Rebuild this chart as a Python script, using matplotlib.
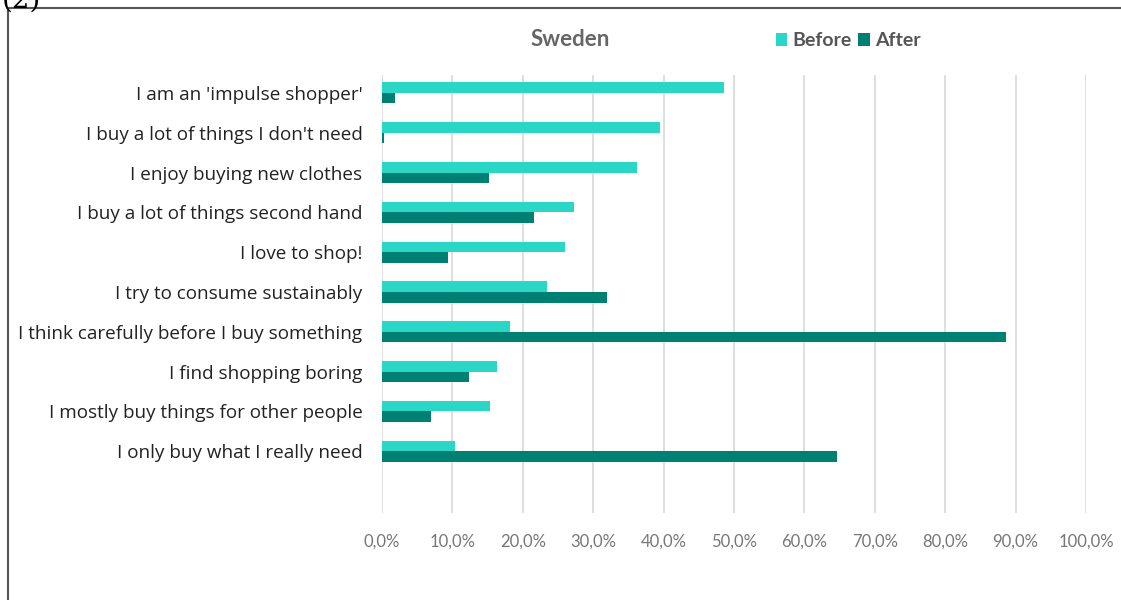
import numpy as np
import matplotlib.pyplot as plt
from matplotlib.lines import Line2D

# dados (Sweden, antes / depois)
statements = [
    "I am an 'impulse shopper'",
    "I buy a lot of things I don't need",
    "I enjoy buying new clothes",
    "I buy a lot of things second hand",
    "I love to shop!",
    "I try to consume sustainably",
    "I think carefully before I buy something",
    "I find shopping boring",
    "I mostly buy things for other people",
    "I only buy what I really need",
]
before = [48.6, 39.5, 36.2, 27.3, 26.0, 23.5, 18.2, 16.4, 15.4, 10.4]
after = [1.8, 0.3, 15.2, 21.6, 9.4, 32.0, 88.7, 12.3, 6.9, 64.7]
xticks = [0, 10, 20, 30, 40, 50, 60, 70, 80, 90, 100]

c_before = '#2AD6C6'
c_after = '#007F73'

plt.rcParams['font.family'] = ['Lato', 'DejaVu Sans']

fig = plt.figure(figsize=(11.21, 6), dpi=100)
ax = fig.add_axes([382 / 1121, 1 - 513 / 600, 704 / 1121, 438 / 600])

y = np.arange(len(statements))
h = 0.265
ax.barh(y - h / 2, before, height=h, color=c_before, label='Before', zorder=3)
ax.barh(y + h / 2, after, height=h, color=c_after, label='After', zorder=3)

ax.set_xlim(0, 100)
ax.set_ylim(len(statements) - 1 + 1.55, -0.45)
ax.set_xticks(xticks)
ax.set_xticklabels([f'{v:.1f}%'.replace('.', ',') for v in xticks])
ax.set_yticks(y)
ax.set_yticklabels(statements, family=['Open Sans', 'DejaVu Sans'])
ax.tick_params(axis='x', length=0, pad=15, labelsize=12, labelcolor='#777777')
ax.tick_params(axis='y', length=0, pad=14, labelsize=13.6, labelcolor='#222222')
ax.grid(axis='x', color='#d9d9d9', linewidth=1.2, zorder=0)
for s in ax.spines.values():
    s.set_visible(False)

fig.text(570 / 1121, 1 - 40 / 600, 'Sweden', ha='center', va='center',
         fontsize=16, fontweight='bold', color='#666666')
fig.legend(loc='center', bbox_to_anchor=(848 / 1121, 1 - 41 / 600), ncol=2,
           frameon=False, handlelength=0.6, handleheight=0.6,
           handletextpad=0.25, columnspacing=0.35, prop={'weight': 'bold', 'size': 14},
           labelcolor='#555555')

# moldura e "(2)" cortado no topo
fig.add_artist(Line2D([8 / 1121, 1], [1 - 8 / 600, 1 - 8 / 600], color='#555555', lw=1.5))
fig.add_artist(Line2D([8 / 1121, 8 / 1121], [0, 1 - 8 / 600], color='#555555', lw=1.5))
fig.text(0.002, 1.0, '(2)', fontsize=20, family='DejaVu Serif', va='center', ha='left')

fig.savefig('out.png', dpi=100)
